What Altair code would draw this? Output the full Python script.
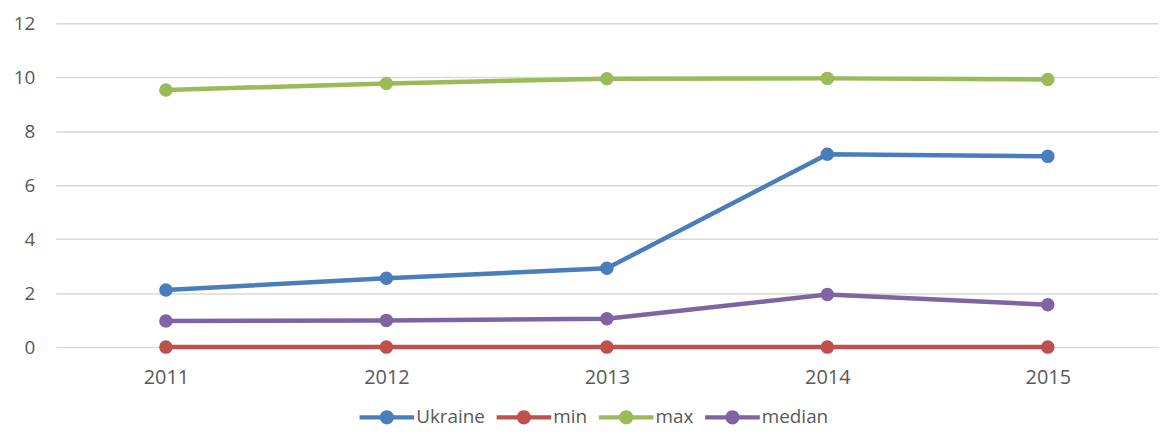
import altair as alt
import pandas as pd

years = ["2011", "2012", "2013", "2014", "2015"]
series_names = ["Ukraine", "min", "max", "median"]
ukraine = [2.12, 2.55, 2.92, 7.15, 7.07]
min_vals = [0.0, 0.0, 0.0, 0.0, 0.0]
max_vals = [9.53, 9.77, 9.95, 9.96, 9.92]
median_vals = [0.97, 0.99, 1.05, 1.95, 1.57]
colors = ["#4A7EBB", "#C0504D", "#9BBB59", "#8064A2"]
y_ticks = [0, 2, 4, 6, 8, 10, 12]

rows = []
for name, vals in zip(series_names, [ukraine, min_vals, max_vals, median_vals]):
    for yr, v in zip(years, vals):
        rows.append({"year": yr, "value": v, "series": name})
df = pd.DataFrame(rows)

FONT = "Open Sans"
TXT = "#595959"

legend_path = (
    "M-1,-0.075L1,-0.075L1,0.075L-1,0.075Z "
    "M-0.26,0A0.26,0.26 0 1,1 0.26,0A0.26,0.26 0 1,1 -0.26,0Z"
)

color = alt.Color(
    "series:N",
    scale=alt.Scale(domain=series_names, range=colors),
    sort=series_names,
    legend=alt.Legend(
        title=None,
        orient="none",
        direction="horizontal",
        legendX=306,
        legendY=369,
        symbolType=legend_path,
        symbolSize=3025,
        symbolStrokeWidth=0,
        symbolOpacity=1,
        labelOffset=2,
        columnPadding=11,
        padding=0,
        labelFont=FONT,
        labelFontSize=19,
        labelColor=TXT,
    ),
)

base = alt.Chart(df).encode(
    x=alt.X(
        "year:O",
        sort=years,
        title=None,
        axis=alt.Axis(
            labelAngle=0,
            ticks=False,
            domain=False,
            grid=False,
            labelPadding=21,
            labelFont=FONT,
            labelFontSize=20,
            labelColor=TXT,
        ),
    ),
    y=alt.Y(
        "value:Q",
        title=None,
        scale=alt.Scale(domain=[0, 12], nice=False, zero=True),
        axis=alt.Axis(
            values=y_ticks,
            ticks=False,
            domain=False,
            grid=True,
            gridColor="#D9D9D9",
            gridWidth=1.5,
            labelPadding=21,
            labelFont=FONT,
            labelFontSize=19,
            labelColor=TXT,
        ),
    ),
    color=color,
)

lines = base.mark_line(strokeWidth=4.5)
points = base.mark_point(filled=True, size=185, opacity=1)

chart = (
    alt.layer(lines, points)
    .properties(
        width=1110,
        height=326,
        autosize=alt.AutoSizeParams(type="none"),
        padding={"left": 48, "top": 14, "right": 6, "bottom": 80},
    )
    .configure_view(stroke=None)
    .configure_scale(pointPadding=0.5)
)

chart.save("out.html", embed_options={"renderer": "svg", "actions": False})
